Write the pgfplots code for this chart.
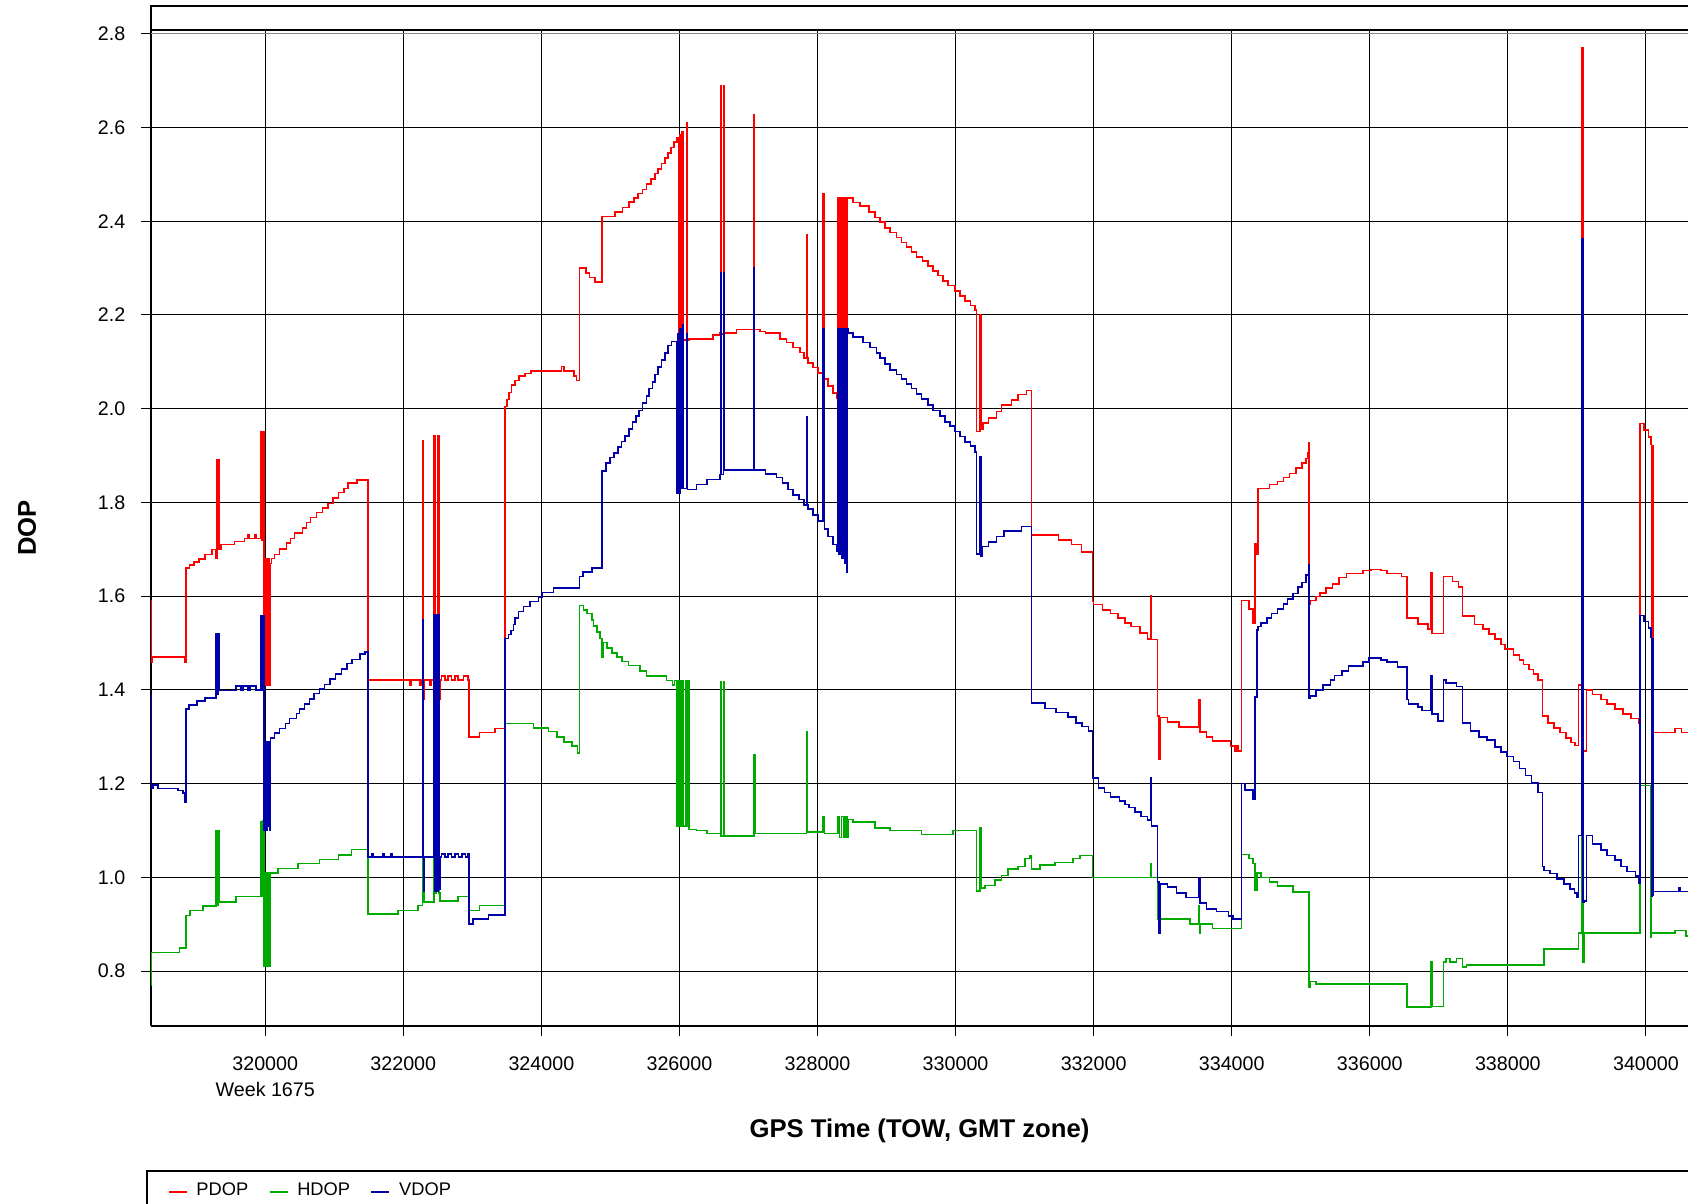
\documentclass[border=0pt]{standalone}
\usepackage{fontspec}
\setmainfont{Liberation Sans}
\usepackage{pgfplots}
\pgfplotsset{compat=1.18}
\definecolor{pdop}{RGB}{255,0,0}
\definecolor{hdop}{RGB}{0,170,0}
\definecolor{vdop}{RGB}{0,0,170}
\begin{document}
\begin{tikzpicture}
\useasboundingbox (0,0) rectangle (168.8mm,120.4mm);
\fill[white] (0,0) rectangle (168.8mm,120.4mm);
\begin{axis}[
  at={(15.1mm,17.8mm)}, anchor=south west,
  scale only axis, width=153.7mm, height=99.6mm,
  xmin=318345, xmax=340610, ymin=0.683, ymax=2.808,
  scaled x ticks=false, scaled y ticks=false,
  axis x line*=bottom, axis y line*=left,
  axis line style={line width=0.25mm, black},
  tick align=outside, major tick length=1mm,
  tick style={black, line width=0.3pt},
  grid=major, major grid style={black, line width=0.3pt},
  xtick={320000,322000,324000,326000,328000,330000,332000,334000,336000,338000,340000},
  xticklabels={{320000\\Week 1675},322000,324000,326000,328000,330000,332000,334000,336000,338000,340000},
  ytick={0.8,1.0,1.2,1.4,1.6,1.8,2.0,2.2,2.4,2.6,2.8},
  yticklabels={0.8,1.0,1.2,1.4,1.6,1.8,2.0,2.2,2.4,2.6,2.8},
  tick label style={font=\fontsize{5.6}{7.4}\selectfont},
  xticklabel style={anchor=north, inner sep=0pt, yshift=-2.05mm, align=center},
  yticklabel style={anchor=east, inner sep=0pt, xshift=-1.5mm},
  xlabel={GPS Time (TOW, GMT zone)},
  ylabel={DOP},
  xlabel style={at={(axis description cs:0.5,-0.1056)}, anchor=center, font=\fontsize{7.3}{8}\selectfont\bfseries},
  ylabel style={at={(axis description cs:-0.0807,0.5)}, anchor=center, font=\fontsize{7.3}{8}\selectfont\bfseries},
  legend columns=-1,
  legend style={at={(axis description cs:0.0105,-0.1669)}, anchor=west, draw=none, fill=none,
    inner sep=0pt, font=\fontsize{5.2}{6}\selectfont, nodes={inner sep=0pt},
    /tikz/every odd column/.style={column sep=0.9mm},
    /tikz/every even column/.style={column sep=2.05mm}},
  legend image code/.code={\draw[#1] (0mm,0mm) -- (1.8mm,0mm);},
  clip=true,
]
\addplot[const plot, pdop, line width=0.45pt] table {
318346 1.59
318352 1.46
318365 1.47
318830 1.46
318854 1.66
318902 1.667
318965 1.673
319037 1.679
319129 1.689
319231 1.70
319289 1.68
319300 1.89
319312 1.70
319322 1.89
319335 1.70
319362 1.71
319555 1.717
319700 1.723
319750 1.73
319770 1.723
319850 1.73
319870 1.723
319942 1.95
319955 1.72
319965 1.95
319980 1.41
319995 1.68
320008 1.41
320022 1.68
320036 1.41
320050 1.68
320064 1.41
320078 1.67
320090 1.68
320135 1.689
320208 1.701
320305 1.713
320368 1.723
320426 1.735
320537 1.745
320595 1.757
320653 1.768
320740 1.779
320827 1.788
320909 1.798
320982 1.81
321064 1.821
321137 1.83
321200 1.841
321325 1.848
321490 1.421
322094 1.41
322115 1.421
322240 1.41
322260 1.421
322278 1.932
322292 1.38
322300 1.421
322385 1.41
322405 1.421
322448 1.943
322462 1.421
322506 1.943
322520 1.38
322530 1.421
322554 1.43
322603 1.421
322651 1.43
322700 1.421
322748 1.43
322796 1.421
322869 1.43
322941 1.421
322955 1.299
323101 1.309
323328 1.318
323473 2.005
323500 2.02
323530 2.035
323570 2.05
323620 2.06
323680 2.07
323760 2.075
323850 2.08
324290 2.09
324330 2.08
324470 2.07
324510 2.06
324552 2.30
324650 2.29
324700 2.28
324780 2.27
324879 2.41
325063 2.42
325174 2.429
325271 2.441
325343 2.449
325401 2.459
325464 2.468
325522 2.48
325585 2.49
325643 2.502
325691 2.512
325739 2.523
325787 2.535
325836 2.545
325874 2.557
325918 2.569
325966 2.579
325990 2.14
326000 2.585
326012 2.14
326039 2.59
326050 2.147
326101 2.61
326116 2.147
326140 2.149
326488 2.157
326585 2.162
326594 2.69
326605 2.16
326640 2.69
326655 2.162
326826 2.169
327077 2.628
327090 2.169
327164 2.165
327246 2.162
327454 2.149
327551 2.141
327647 2.131
327744 2.12
327802 2.108
327841 2.37
327855 2.108
327865 2.098
327937 2.088
328010 2.076
328073 2.064
328082 2.459
328100 2.064
328155 2.049
328227 2.034
328285 2.022
328300 2.45
328315 2.01
328340 2.45
328355 2.0
328375 2.45
328390 2.0
328405 2.45
328420 1.99
328430 2.45
328444 2.449
328517 2.44
328614 2.432
328749 2.42
328831 2.408
328903 2.398
328976 2.386
329048 2.376
329145 2.365
329217 2.355
329290 2.345
329362 2.334
329435 2.324
329522 2.315
329604 2.304
329676 2.294
329749 2.284
329821 2.273
329894 2.263
329990 2.251
330063 2.241
330135 2.23
330217 2.22
330280 2.21
330304 1.951
330353 2.20
330367 1.957
330401 1.969
330474 1.98
330594 1.994
330667 2.008
330811 2.018
330908 2.03
331029 2.039
331101 1.73
331488 1.72
331681 1.71
331826 1.694
331982 1.589
332000 1.582
332130 1.57
332247 1.563
332353 1.553
332454 1.543
332542 1.535
332672 1.522
332778 1.509
332825 1.60
332840 1.508
332925 1.344
332943 1.252
332966 1.341
333072 1.331
333237 1.321
333526 1.38
333540 1.31
333632 1.30
333720 1.291
333985 1.28
334050 1.27
334080 1.28
334100 1.27
334144 1.591
334250 1.573
334309 1.543
334339 1.711
334355 1.69
334380 1.83
334545 1.838
334663 1.845
334751 1.853
334840 1.862
334928 1.874
335016 1.884
335075 1.894
335100 1.907
335115 1.927
335122 1.582
335134 1.591
335222 1.599
335281 1.607
335370 1.617
335458 1.626
335558 1.64
335664 1.648
335900 1.655
336018 1.657
336165 1.655
336253 1.648
336459 1.642
336536 1.553
336695 1.541
336842 1.53
336884 1.65
336901 1.52
337066 1.642
337196 1.631
337284 1.619
337343 1.558
337520 1.54
337638 1.53
337726 1.519
337814 1.509
337903 1.497
337962 1.487
338080 1.475
338168 1.464
338227 1.454
338303 1.444
338374 1.434
338433 1.421
338504 1.344
338580 1.329
338669 1.319
338757 1.309
338846 1.298
338916 1.288
338975 1.281
339022 1.41
339069 2.77
339085 1.27
339140 1.40
339228 1.39
339346 1.38
339434 1.37
339552 1.359
339670 1.349
339788 1.339
339894 1.329
339917 1.968
339976 1.955
340035 1.94
340071 1.925
340080 1.51
340090 1.92
340100 1.50
340112 1.309
340420 1.318
340517 1.309
340610 1.309
};
\addlegendentry{PDOP}
\addplot[const plot, hdop, line width=0.45pt] table {
318346 0.77
318352 0.84
318757 0.849
318854 0.919
318912 0.929
319095 0.939
319289 1.099
319300 0.94
319315 1.10
319337 0.948
319579 0.959
319942 1.118
319955 0.96
319965 1.12
319980 0.81
319995 1.01
320008 0.81
320022 1.01
320036 0.81
320050 1.01
320064 0.81
320078 1.01
320184 1.019
320474 1.03
320788 1.038
321064 1.048
321248 1.06
321490 0.922
321925 0.929
322215 0.94
322278 1.11
322292 0.967
322300 0.948
322448 1.11
322462 0.967
322475 1.11
322490 0.97
322506 1.11
322520 0.967
322530 0.95
322796 0.959
322955 0.929
323101 0.94
323473 1.328
323885 1.319
324102 1.311
324223 1.30
324329 1.289
324440 1.28
324522 1.266
324552 1.58
324610 1.571
324658 1.563
324731 1.549
324755 1.536
324803 1.523
324852 1.51
324876 1.47
324890 1.501
324948 1.489
325021 1.479
325093 1.47
325166 1.461
325263 1.452
325425 1.44
325522 1.43
325812 1.42
325900 1.41
325930 1.42
325966 1.11
325990 1.42
326005 1.11
326039 1.42
326050 1.11
326092 1.42
326105 1.11
326126 1.42
326140 1.102
326246 1.10
326401 1.094
326594 1.418
326605 1.088
326640 1.418
326655 1.088
327077 1.261
327092 1.094
327841 1.31
327855 1.097
328082 1.13
328100 1.094
328300 1.13
328320 1.085
328350 1.13
328380 1.085
328410 1.13
328430 1.085
328444 1.124
328517 1.118
328831 1.106
329048 1.10
329507 1.092
329966 1.10
330304 0.971
330353 1.106
330367 0.977
330425 0.983
330570 0.995
330667 1.004
330763 1.018
330908 1.023
331005 1.04
331077 1.046
331101 1.018
331222 1.026
331440 1.032
331705 1.04
331802 1.047
331982 1.0
332825 1.03
332840 1.0
332925 0.911
332943 0.88
332966 0.911
333396 0.901
333526 0.94
333532 0.88
333540 0.901
333720 0.891
334144 1.049
334250 1.04
334309 1.03
334339 0.972
334368 1.01
334427 1.0
334545 0.99
334663 0.982
334887 0.969
335122 0.765
335134 0.778
335222 0.772
336536 0.723
336884 0.819
336901 0.725
337066 0.819
337108 0.827
337166 0.819
337255 0.827
337343 0.809
337400 0.813
338521 0.847
339022 0.881
339069 1.45
339085 0.82
339110 0.881
339917 1.196
340071 0.872
340083 0.881
340420 0.887
340583 0.875
340610 0.875
};
\addlegendentry{HDOP}
\addplot[const plot, vdop, line width=0.45pt] table {
318346 1.39
318352 1.19
318370 1.197
318443 1.19
318733 1.185
318805 1.18
318840 1.16
318854 1.359
318892 1.368
319013 1.377
319129 1.383
319289 1.52
319300 1.39
319315 1.52
319335 1.399
319579 1.408
319650 1.40
319680 1.408
319750 1.40
319780 1.408
319870 1.40
319942 1.558
319955 1.40
319965 1.558
319980 1.10
319995 1.29
320008 1.10
320022 1.29
320036 1.11
320050 1.29
320064 1.10
320078 1.297
320135 1.308
320208 1.318
320295 1.328
320353 1.339
320450 1.35
320498 1.359
320571 1.37
320643 1.381
320706 1.392
320788 1.402
320861 1.412
320934 1.423
321016 1.434
321103 1.445
321185 1.456
321258 1.465
321369 1.477
321441 1.481
321490 1.043
321538 1.05
321560 1.043
321698 1.05
321720 1.043
321814 1.05
321840 1.043
322278 1.55
322292 0.971
322305 1.043
322448 1.561
322462 0.971
322475 1.561
322490 0.971
322506 1.561
322520 0.975
322530 1.043
322554 1.05
322600 1.043
322650 1.05
322700 1.043
322750 1.05
322800 1.043
322850 1.05
322900 1.043
322930 1.05
322955 0.90
323013 0.911
323231 0.92
323473 1.51
323521 1.518
323560 1.527
323594 1.54
323620 1.554
323667 1.567
323739 1.578
323836 1.589
323957 1.598
324005 1.608
324174 1.618
324552 1.642
324600 1.651
324731 1.66
324879 1.867
324932 1.884
324990 1.896
325048 1.906
325111 1.918
325159 1.93
325208 1.942
325271 1.957
325319 1.972
325367 1.984
325415 1.996
325464 2.012
325522 2.027
325560 2.043
325609 2.057
325643 2.073
325691 2.089
325739 2.104
325787 2.119
325836 2.135
325884 2.143
325957 1.82
325980 2.16
325995 1.82
326010 2.17
326030 1.83
326045 2.18
326060 1.83
326101 2.16
326116 1.828
326246 1.838
326401 1.849
326585 1.859
326594 2.29
326605 1.86
326640 2.29
326655 1.869
327077 2.30
327090 1.869
327246 1.861
327406 1.853
327493 1.841
327575 1.828
327647 1.816
327729 1.806
327802 1.795
327841 1.982
327855 1.795
327865 1.786
327937 1.773
328010 1.761
328082 2.171
328100 1.743
328155 1.727
328227 1.71
328285 1.697
328300 2.171
328315 1.69
328340 2.171
328355 1.68
328375 2.171
328390 1.67
328405 2.171
328420 1.651
328430 2.171
328444 2.161
328517 2.153
328662 2.141
328758 2.131
328855 2.119
328903 2.108
328976 2.095
329048 2.083
329145 2.073
329217 2.064
329290 2.053
329362 2.043
329435 2.031
329507 2.021
329604 2.008
329676 1.996
329773 1.985
329845 1.972
329918 1.963
329990 1.951
330063 1.941
330135 1.929
330217 1.92
330280 1.908
330304 1.69
330353 1.898
330367 1.685
330391 1.706
330474 1.715
330594 1.727
330701 1.739
330957 1.749
331101 1.372
331295 1.36
331452 1.352
331629 1.342
331747 1.329
331835 1.322
331923 1.312
331982 1.212
332071 1.191
332159 1.181
332247 1.171
332377 1.163
332454 1.156
332513 1.149
332601 1.14
332689 1.13
332778 1.122
332825 1.212
332840 1.11
332925 0.99
332943 0.88
332966 0.986
333072 0.98
333202 0.967
333337 0.957
333526 1.0
333540 0.945
333632 0.932
333779 0.927
333956 0.918
334015 0.911
334144 1.20
334191 1.186
334309 1.166
334339 1.385
334368 1.528
334380 1.535
334427 1.543
334515 1.553
334574 1.563
334663 1.573
334751 1.583
334810 1.594
334887 1.606
334957 1.619
335016 1.629
335075 1.645
335110 1.667
335122 1.382
335134 1.387
335222 1.40
335322 1.41
335429 1.421
335488 1.431
335594 1.441
335694 1.451
335900 1.459
335988 1.468
336165 1.464
336253 1.459
336401 1.449
336536 1.38
336560 1.37
336695 1.363
336754 1.356
336884 1.431
336901 1.349
336990 1.334
337066 1.421
337100 1.415
337255 1.407
337343 1.329
337461 1.312
337579 1.30
337697 1.293
337814 1.278
337903 1.268
337991 1.258
338080 1.247
338168 1.232
338256 1.217
338345 1.202
338433 1.181
338504 1.023
338521 1.015
338610 1.008
338716 0.996
338816 0.986
338904 0.975
338963 0.967
339000 0.957
339022 1.089
339069 2.362
339085 0.947
339110 0.95
339140 1.089
339228 1.071
339346 1.059
339434 1.047
339552 1.037
339640 1.023
339729 1.013
339847 1.003
339900 0.988
339917 1.559
339976 1.546
340035 1.532
340071 1.512
340080 0.96
340090 1.51
340100 0.962
340112 0.97
340470 0.978
340495 0.97
340610 0.97
};
\addlegendentry{VDOP}
\end{axis}
\draw[line width=0.22mm] (15.1mm,117.4mm) -- (168.9mm,117.4mm);
\draw[black!45, line width=0.1mm] (15.1mm,117.05mm) -- (168.9mm,117.05mm);
\draw[line width=0.22mm] (15.1mm,117.4mm) -- (15.1mm,119.8mm) -- (168.9mm,119.8mm);
\draw[line width=0.2mm] (14.7mm,-1mm) -- (14.7mm,3.25mm) -- (169mm,3.25mm);
\end{tikzpicture}
\end{document}
